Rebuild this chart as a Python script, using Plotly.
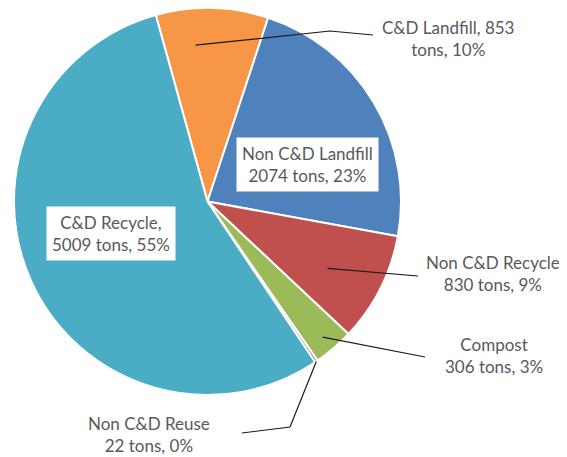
import math
import plotly.graph_objects as go

# ---- data ----
labels = ["C&D Landfill", "Non C&D Landfill", "Non C&D Recycle", "Compost", "Non C&D Reuse", "C&D Recycle"]
tons = [853, 2074, 830, 306, 22, 5009]
pct_text = ["10%", "23%", "9%", "3%", "0%", "55%"]
colors = ["#F79646", "#4F81BD", "#C0504D", "#9BBB59", "#8064A2", "#4BACC6"]

W, H = 567, 457
OFF = 8  # page offset of the plot div (browser body margin)
# pie geometry in page pixels (top clipped to the figure's top edge)
CX, CY, R = 207.5, 201.5, 193.5
ROT = -15.5  # start angle (degrees clockwise from 12 o'clock)

def px(x):
    return (x - OFF) / W

def py(y):
    return min(1.0, max(0.0, 1 - (y - OFF) / H))

fig = go.Figure(go.Pie(
    labels=labels, values=tons, sort=False, direction="clockwise", rotation=ROT,
    marker=dict(colors=colors, line=dict(color="white", width=2)),
    textinfo="none", hoverinfo="label+value+percent", showlegend=False,
    domain=dict(x=[px(CX - R), px(CX + R)], y=[py(CY + R), py(CY - R)]),
))

# label texts built from data
breaks = ["{n}, {t}<br>tons, {p}", "{n}<br>{t} tons, {p}", "{n}<br>{t} tons, {p}",
          "{n}<br>{t} tons, {p}", "{n}<br>{t} tons, {p}", "{n},<br>{t} tons, {p}"]
texts = [b.format(n=n, t=t, p=p) for b, n, t, p in zip(breaks, labels, tons, pct_text)]

# label layout (page pixel centres) and box style
label_pos = [(448, 38), (307, 165), (493, 273), (494, 355), (149, 434), (111, 233)]
boxed = [False, True, False, False, False, True]
# leader lines: (fraction along slice, radius fraction, list of further points)
leaders = {
    0: (0.33, 0.81, [(330, 31), (373, 35)]),
    2: (0.57, 0.71, [(418, 276)]),
    3: (0.53, 0.92, [(425, 357)]),
    4: (0.5, 1.0, [(290, 427), (242, 433)]),
}

total = sum(tons)
starts = []
acc = 0
for v in tons:
    starts.append(ROT + acc / total * 360)
    acc += v

def qx(x):
    return (x - OFF) / W

def qy(y):
    return 1 - (y - OFF) / H

shapes = []
for i, (frac, rf, pts) in leaders.items():
    span = tons[i] / total * 360
    ang = math.radians(starts[i] + frac * span)
    sx = CX + rf * R * math.sin(ang)
    sy = CY - rf * R * math.cos(ang)
    path_pts = [(sx, sy)] + pts
    d = "M " + " L ".join(f"{qx(x):.5f},{qy(y):.5f}" for x, y in path_pts)
    shapes.append(dict(type="path", path=d, xref="paper", yref="paper",
                       line=dict(color="#1a1a1a", width=1.2), layer="above"))

annotations = []
for i, txt in enumerate(texts):
    x, y = label_pos[i]
    annotations.append(dict(
        x=qx(x), y=qy(y), xref="paper", yref="paper", text=txt, showarrow=False,
        xanchor="center", yanchor="middle", align="center",
        font=dict(family="Lato", size=17, color="#595959"),
        bgcolor="white" if boxed[i] else "rgba(0,0,0,0)",
        borderpad=5 if boxed[i] else 0,
    ))

fig.update_layout(
    width=W, height=H, margin=dict(l=0, r=0, t=0, b=0),
    paper_bgcolor="white", plot_bgcolor="white",
    shapes=shapes, annotations=annotations,
)

fig.write_html("out.html")
